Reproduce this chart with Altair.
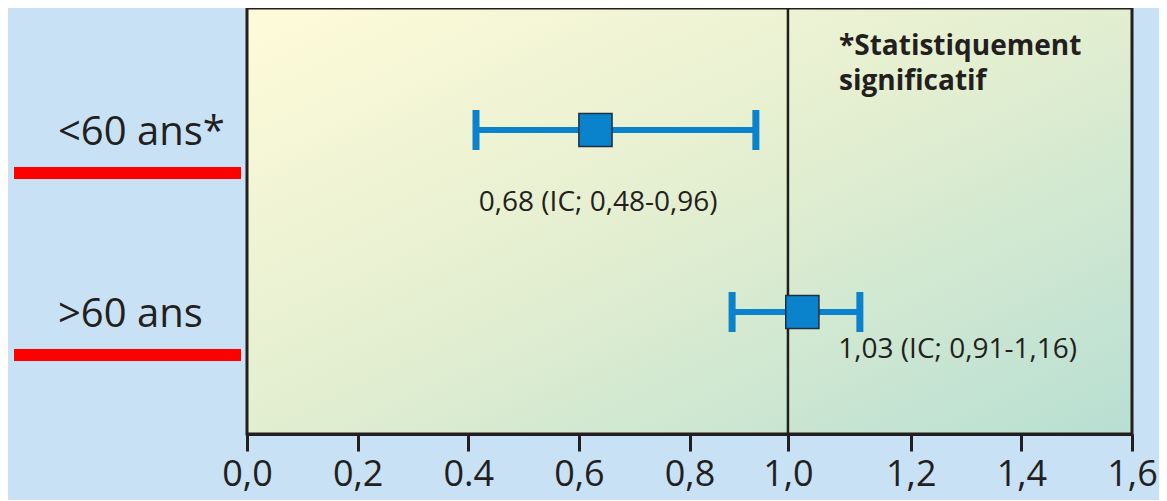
import altair as alt
import pandas as pd

# ---- data ----
rows = ["<60 ans*", ">60 ans"]
est = [0.630, 1.004]
ci_lo = [0.414, 0.877]
ci_hi = [0.920, 1.108]
annot = ["0,68 (IC; 0,48-0,96)", "1,03 (IC; 0,91-1,16)"]
annot_x = [0.419, 1.069]
tick_vals = [0.0, 0.2, 0.4, 0.6, 0.8, 0.978, 1.2, 1.4, 1.6]
tick_labels = ["0,0", "0,2", "0.4", "0,6", "0,8", "1,0", "1,2", "1,4", "1,6"]
ref_line = [0.978]
note = "*Statistiquement\nsignificatif"

W, H = 885, 426
FONT = "Open Sans"
INK = "#231f20"
BLUE = "#0a83cc"

df = pd.DataFrame({"row": rows, "est": est, "lo": ci_lo, "hi": ci_hi,
                   "annot": annot, "ax": annot_x})
one = pd.DataFrame({"k": [0]})
ref = pd.DataFrame({"ref": ref_line})

xscale = alt.Scale(domain=[0, 1.6], nice=False, zero=False)
yscale = alt.Scale(type="point", domain=rows, padding=0.67)

label_expr = "{}[indexof({}, datum.value)]".format(
    "[" + ",".join("'%s'" % t for t in tick_labels) + "]",
    "[" + ",".join(str(v) for v in tick_vals) + "]",
)

xaxis = alt.Axis(values=tick_vals, labelExpr=label_expr, title=None, grid=False,
                 labelFont=FONT, labelFontSize=36, labelColor=INK,
                 tickColor=INK, tickWidth=3, tickSize=17, domainColor=INK,
                 domainWidth=3, labelPadding=6, zindex=1, labelFlush=False)


def X(field):
    return alt.X(field, scale=xscale, axis=xaxis, title=None)


Y = alt.Y("row:N", scale=yscale, axis=None)

grad = alt.LinearGradient(
    gradient="linear",
    stops=[alt.GradientStop(color="#fffbd9", offset=0),
           alt.GradientStop(color="#e2eed0", offset=0.5),
           alt.GradientStop(color="#b8dfd3", offset=1)],
    x1=0, y1=0, x2=1, y2=1)

bg = alt.Chart(one).mark_rect(fill=grad, stroke=INK, strokeWidth=3).encode(
    x=alt.value(0), x2=alt.value(W), y=alt.value(0), y2=alt.value(H))

refl = alt.Chart(ref).mark_rule(color=INK, strokeWidth=2.5).encode(x=X("ref:Q"))

ci = alt.Chart(df).mark_rule(color=BLUE, strokeWidth=6, opacity=1).encode(
    x=X("lo:Q"), x2="hi:Q", y=Y)

cap_lo = alt.Chart(df).mark_tick(color=BLUE, thickness=7, size=40, orient="vertical",
                                 opacity=1).encode(x=X("lo:Q"), y=Y)
cap_hi = alt.Chart(df).mark_tick(color=BLUE, thickness=7, size=40, orient="vertical",
                                 opacity=1).encode(x=X("hi:Q"), y=Y)

pt = alt.Chart(df).mark_square(size=1100, fill=BLUE, fillOpacity=1, opacity=1,
                               stroke="#1d2f40", strokeWidth=1.5).encode(x=X("est:Q"), y=Y)

ann1 = alt.Chart(df).transform_filter(alt.datum.row == rows[0]).mark_text(
    align="left", baseline="middle", dy=73, font=FONT, fontSize=28, color=INK).encode(
    x=X("ax:Q"), y=Y, text="annot:N")
ann2 = alt.Chart(df).transform_filter(alt.datum.row == rows[1]).mark_text(
    align="left", baseline="middle", dy=38, font=FONT, fontSize=28, color=INK).encode(
    x=X("ax:Q"), y=Y, text="annot:N")

rlab = alt.Chart(df).mark_text(align="left", baseline="middle", dy=3, font=FONT,
                               fontSize=40, color=INK).encode(
    x=alt.value(-189), y=Y, text="row:N")

red = alt.Chart(df).mark_rule(color="#ff0000", strokeWidth=12, yOffset=43).encode(
    x=alt.value(-233), x2=alt.value(-6), y=Y)

note_t = alt.Chart(one).mark_text(align="left", baseline="alphabetic", font=FONT,
                                  fontSize=28, fontWeight="bold", color=INK,
                                  lineBreak="\n", lineHeight=35).encode(
    x=alt.value(592), y=alt.value(47), text=alt.value(note))

chart = alt.layer(bg, refl, ci, cap_lo, cap_hi, pt, ann1, ann2, rlab, red, note_t).properties(
    width=W, height=H,
    autosize=alt.AutoSizeParams(type="none"),
    padding={"left": 239, "top": 0, "right": 27, "bottom": 66},
    background="#c8e1f4",
).configure_view(stroke=None)

chart.save("out.html", embed_options={"renderer": "svg", "actions": False})
